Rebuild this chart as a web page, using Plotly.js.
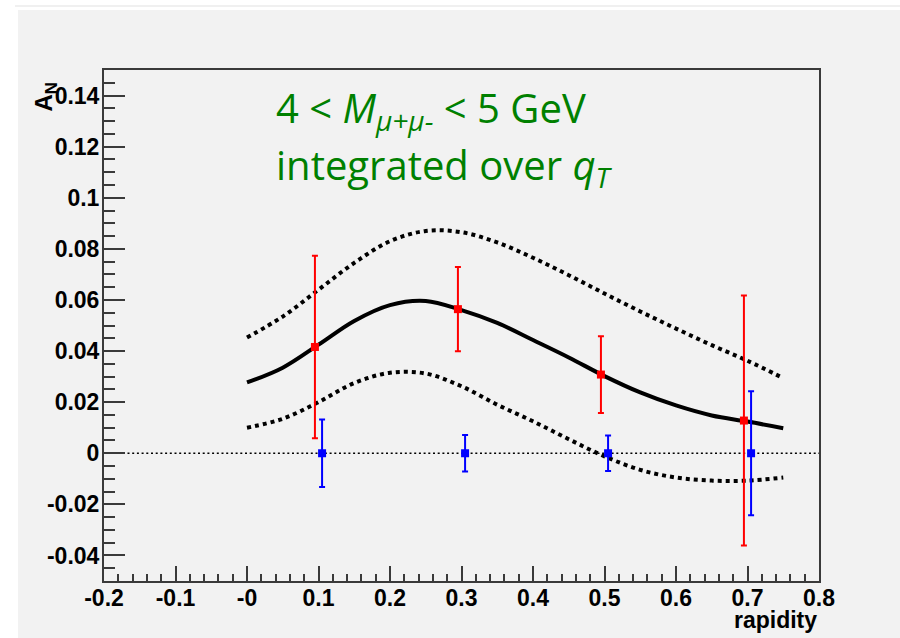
<!DOCTYPE html>
<html>
<head>
<meta charset="utf-8">
<script src="https://cdn.plot.ly/plotly-3.0.1.min.js"></script>
<style>
  html, body { margin: 0; padding: 0; background: #ffffff; }
  #chart { width: 900px; height: 638px; }
</style>
</head>
<body>
<div id="chart"></div>
<script>
// Theory curves for A_N versus rapidity
const curveX     = [0, 0.05, 0.10, 0.15, 0.20, 0.25, 0.30, 0.35, 0.40, 0.45, 0.50, 0.55, 0.60, 0.65, 0.70, 0.75];
const curveMid   = [0.0277, 0.0335, 0.0425, 0.0518, 0.0580, 0.0596, 0.0560, 0.0510, 0.0443, 0.0375, 0.0302, 0.0238, 0.0187, 0.0148, 0.0124, 0.0098];
const curveUpper = [0.0453, 0.0535, 0.0640, 0.0745, 0.0830, 0.0870, 0.0865, 0.0825, 0.0765, 0.0697, 0.0625, 0.0555, 0.0488, 0.0423, 0.0362, 0.0294];
const curveLower = [0.0100, 0.0135, 0.0200, 0.0275, 0.0315, 0.0312, 0.0262, 0.0190, 0.0125, 0.0055, -0.0012, -0.0065, -0.0095, -0.0107, -0.0107, -0.0095];

// Projected points with non-zero asymmetry (red)
const redX   = [0.095, 0.295, 0.495, 0.695];
const redY   = [0.0416, 0.0564, 0.0308, 0.0128];
const redErr = [0.0357, 0.0165, 0.0150, 0.0489];

// Projected points at zero asymmetry (blue)
const blueX   = [0.105, 0.305, 0.505, 0.705];
const blueY   = [0, 0, 0, 0];
const blueErr = [0.0132, 0.0071, 0.0069, 0.0243];

// Axis ticks
const xTickVals = [-0.2, -0.1, 0, 0.1, 0.2, 0.3, 0.4, 0.5, 0.6, 0.7, 0.8];
const xTickText = ['-0.2', '-0.1', '-0', '0.1', '0.2', '0.3', '0.4', '0.5', '0.6', '0.7', '0.8'];
const yTickVals = [-0.04, -0.02, 0, 0.02, 0.04, 0.06, 0.08, 0.10, 0.12, 0.14];
const yTickText = ['-0.04', '-0.02', '0', '0.02', '0.04', '0.06', '0.08', '0.1', '0.12', '0.14'];

const frameColor = '#3a3a3a';
const panelGray = '#f2f2f2';
const boldFont = 'Liberation Sans, Arial, sans-serif';
const tickFont = { family: boldFont, size: 23, color: '#000', weight: 700 };

const traces = [
  { x: curveX, y: curveUpper, mode: 'lines', line: { color: '#000', width: 4, dash: 'dot', shape: 'spline', smoothing: 1 }, hoverinfo: 'skip' },
  { x: curveX, y: curveLower, mode: 'lines', line: { color: '#000', width: 4, dash: 'dot', shape: 'spline', smoothing: 1 }, hoverinfo: 'skip' },
  { x: curveX, y: curveMid,   mode: 'lines', line: { color: '#000', width: 4, shape: 'spline', smoothing: 1 }, hoverinfo: 'skip' },
  { x: redX, y: redY, mode: 'markers',
    marker: { symbol: 'square', size: 8, color: '#ff0000' },
    error_y: { type: 'data', array: redErr, visible: true, color: '#ff0000', thickness: 2, width: 3 } },
  { x: blueX, y: blueY, mode: 'markers',
    marker: { symbol: 'square', size: 8, color: '#0000ff' },
    error_y: { type: 'data', array: blueErr, visible: true, color: '#0000ff', thickness: 2, width: 3 } }
];

const axisCommon = {
  showgrid: false, zeroline: false,
  showline: true, mirror: true, linecolor: frameColor, linewidth: 2,
  ticks: 'inside', tickcolor: frameColor, tickwidth: 2,
  tickfont: tickFont, tickmode: 'array', fixedrange: true
};

const layout = {
  width: 900, height: 638,
  margin: { l: 104, r: 81, t: 70, b: 57 },
  paper_bgcolor: '#ffffff',
  plot_bgcolor: panelGray,
  showlegend: false,
  xaxis: Object.assign({}, axisCommon, {
    range: [-0.2, 0.8], tickvals: xTickVals, ticktext: xTickText, ticklen: 15,
    ticklabelstandoff: -5,
    minor: { tickmode: 'linear', tick0: 0, dtick: 0.02, ticks: 'inside', ticklen: 7, tickwidth: 2, tickcolor: frameColor }
  }),
  yaxis: Object.assign({}, axisCommon, {
    range: [-0.05, 0.15], tickvals: yTickVals, ticktext: yTickText, ticklen: 21,
    ticklabelstandoff: -2,
    minor: { tickmode: 'linear', tick0: 0, dtick: 0.005, ticks: 'inside', ticklen: 11, tickwidth: 2, tickcolor: frameColor }
  }),
  shapes: [
    // canvas panel
    { type: 'rect', xref: 'paper', yref: 'paper', x0: -0.1203, x1: 1.2, y0: -0.2, y1: 1.1174,
      fillcolor: panelGray, line: { width: 0 }, layer: 'below' },
    { type: 'line', xref: 'paper', yref: 'paper', x0: -0.1245, x1: 1.2, y0: 1.1252, y1: 1.1252,
      line: { color: '#ebebeb', width: 1.5 }, layer: 'below' },
    // zero reference line
    { type: 'line', xref: 'paper', yref: 'y', x0: 0, x1: 1, y0: 0, y1: 0,
      line: { color: '#000', width: 1.5, dash: '2px,2.7px' }, layer: 'below' }
  ],
  annotations: [
    { xref: 'paper', yref: 'paper', x: 0.2378, y: 0.922, xanchor: 'left', yanchor: 'middle', showarrow: false,
      text: '4 &lt; <i>M</i><sub><i>μ+μ-</i></sub> &lt; 5 GeV',
      font: { family: 'Open Sans, sans-serif', size: 40, color: '#008000' } },
    { xref: 'paper', yref: 'paper', x: 0.2378, y: 0.812, xanchor: 'left', yanchor: 'middle', showarrow: false,
      text: 'integrated over <i>q</i><sub><i>T</i></sub>',
      font: { family: 'Open Sans, sans-serif', size: 40, color: '#008000' } },
    { xref: 'paper', yref: 'paper', x: -0.0818, y: 0.947, xanchor: 'center', yanchor: 'middle', showarrow: false,
      textangle: -90, text: 'A<sub>N</sub>',
      font: { family: boldFont, size: 24, color: '#000', weight: 700 } },
    { xref: 'paper', yref: 'paper', x: 1, y: -0.0763, xanchor: 'right', yanchor: 'middle', showarrow: false,
      text: 'rapidity',
      font: { family: boldFont, size: 23, color: '#000', weight: 700 } }
  ]
};

Plotly.newPlot('chart', traces, layout, { staticPlot: true, displayModeBar: false });
</script>
</body>
</html>
